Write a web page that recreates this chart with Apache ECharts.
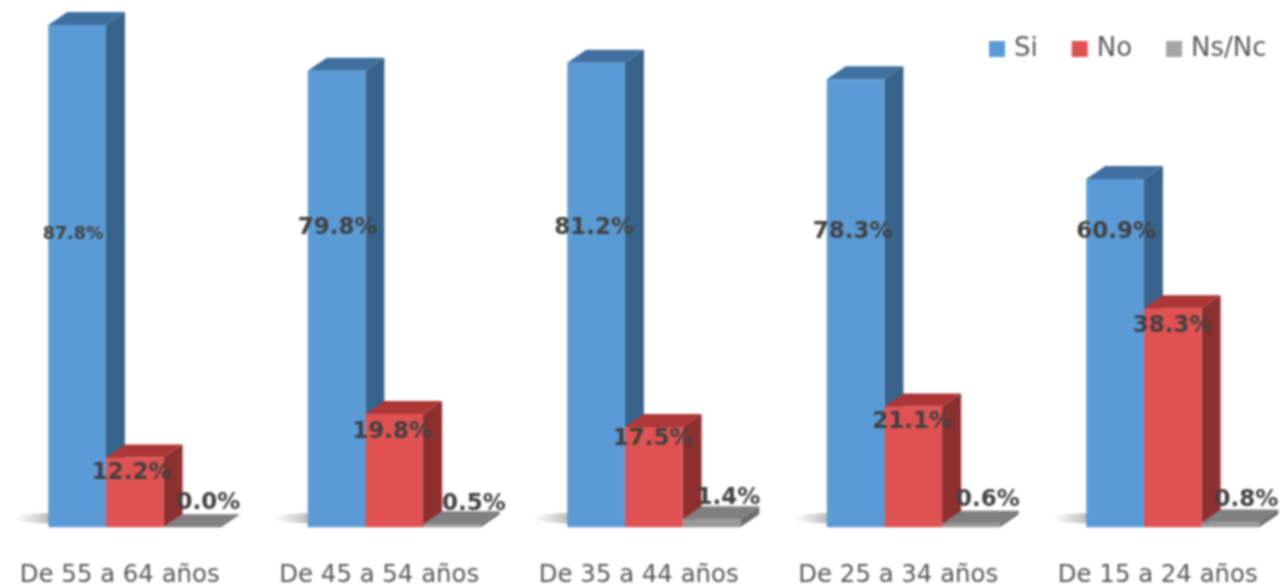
<!DOCTYPE html>
<html><head><meta charset="utf-8">
<style>html,body{margin:0;padding:0;background:#fff;overflow:hidden}#c{width:1283px;height:587px;filter:blur(0.8px)}</style>
<script src="https://cdn.jsdelivr.net/npm/echarts@6/dist/echarts.min.js"></script>
</head><body><div id="c"></div>
<script>
const categories = ['De 55 a 64 años','De 45 a 54 años','De 35 a 44 años','De 25 a 34 años','De 15 a 24 años'];
const si = [87.8,79.8,81.2,78.3,60.9];
const no = [12.2,19.8,17.5,21.1,38.3];
const nsnc = [0.0,0.5,1.4,0.6,0.8];

const DX = 19, DY = -13, FONT = '"DejaVu Sans", sans-serif', LABEL_COLOR = '#404040';
// hand-placed label nudges in the original chart [dx, dy]
const siNudge = [[-3,6],[2,0],[-1,0],[-2,4],[2,4]];
const noNudge = [[-2,2],[-1,4],[0,-2],[0,2],[1,4]];
const nsNudge = [[-1,0],[5,4],[0,3],[0,0],[-1,1]];

function bar3d(offset, colors, labelFn) {
  return function (params, api) {
    const cat = api.value(0), val = api.value(1);
    const band = api.size([1, 0])[0], w = band / 4.5;
    const base = api.coord([cat, 0]), top = api.coord([cat, val]);
    const x0 = base[0] + (offset - 0.5) * w, x1 = x0 + w, yb = base[1], yt = top[1];
    const poly = (pts, fill) => ({type:'polygon', shape:{points:pts}, style:{fill}});
    const children = [];
    if (offset === -1) {
      children.push({type:'ellipse', shape:{cx:x0 + 2, cy:yb - 9, rx:36, ry:5},
        style:{fill:new echarts.graphic.LinearGradient(0,0,1,0,[{offset:0,color:'rgba(190,190,190,0)'},{offset:0.5,color:'rgba(170,170,170,0.85)'},{offset:1,color:'rgba(170,170,170,0.85)'}])}});
    }
    children.push(poly([[x1,yb],[x1+DX,yb+DY],[x1+DX,yt+DY],[x1,yt]], colors.side));
    children.push(poly([[x0,yt],[x0+DX,yt+DY],[x1+DX,yt+DY],[x1,yt]], colors.top));
    if (yb > yt) children.push({type:'rect', shape:{x:x0,y:yt,width:w,height:yb-yt}, style:{fill:colors.front}});
    const lab = labelFn(x0 + w/2, yt, api, cat, val);
    children.push({type:'text', z2:50, style:{x:lab.x, y:lab.y, text:val.toFixed(1)+'%', align:'center', verticalAlign:'middle',
      fill:LABEL_COLOR, font:'bold '+lab.size+'px '+FONT}});
    return {type:'group', children};
  };
}
const makeData = arr => arr.map((v,i)=>[i,v]);
const siLabel = (cx,yt,api,cat)=>({x:cx-1+siNudge[cat][0], y:api.coord([cat,52.3])[1]+siNudge[cat][1], size:cat===0?17.5:23});
const noLabel = (cx,yt,api,cat)=>({x:cx-1+noNudge[cat][0], y:yt+14+noNudge[cat][1], size:23});
const nsLabel = (cx,yt,api,cat)=>({x:cx+17+nsNudge[cat][0], y:yt-24+nsNudge[cat][1], size:23});

const chart = echarts.init(document.getElementById('c'), null, {renderer:'canvas'});
chart.setOption({
  animation:false,
  backgroundColor:'#fff',
  grid:{left:5, width:1297.5, top:1, height:526.2, outerBoundsMode:'none'},
  xAxis:{type:'category', data:categories, axisLine:{show:false}, axisTick:{show:false},
    axisLabel:{margin:36, color:'#595959', fontFamily:FONT, fontSize:24.4, padding:[0,30,0,0], interval:0}},
  yAxis:{type:'value', min:0, max:92, show:false},
  legend:{left:984, top:31, itemWidth:16, itemHeight:16, itemGap:34, icon:'rect',
    textStyle:{color:'#595959', fontFamily:FONT, fontSize:26, padding:[0,0,0,4]},
    data:['Si','No','Ns/Nc']},
  series:[
    {name:'Si', type:'custom', data:makeData(si), itemStyle:{color:'#5B9BD5'}, clip:false,
      renderItem:bar3d(-1,{front:'#5B9BD5',side:'#37638B',top:'#3F6F9E'},siLabel)},
    {name:'No', type:'custom', data:makeData(no), itemStyle:{color:'#E05252'}, clip:false,
      renderItem:bar3d(0,{front:'#E05252',side:'#8C2F2F',top:'#AD3636'},noLabel)},
    {name:'Ns/Nc', type:'custom', data:makeData(nsnc), itemStyle:{color:'#A5A5A5'}, clip:false,
      renderItem:bar3d(1,{front:'#999999',side:'#6E6E6E',top:'#808080'},nsLabel)}
  ]
});
</script></body></html>
